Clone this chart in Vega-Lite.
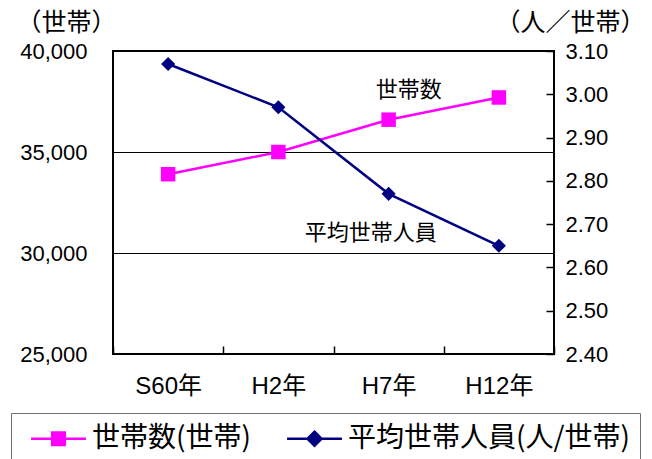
{
  "$schema": "https://vega.github.io/schema/vega-lite/v6.json",
  "width": 441,
  "height": 303,
  "autosize": {"type": "none"},
  "padding": {"left": 113, "top": 51, "right": 98, "bottom": 105},
  "background": "white",
  "config": {
    "view": {"stroke": "black", "strokeWidth": 2},
    "font": "Noto Sans CJK JP",
    "legend": {
      "orient": "none",
      "legendX": -102,
      "legendY": 362,
      "direction": "horizontal",
      "padding": 10,
      "strokeColor": "#707070",
      "fillColor": "white",
      "labelFont": "Noto Sans CJK JP",
      "labelFontSize": 28,
      "labelColor": "black",
      "labelLimit": 400,
      "symbolSize": 784,
      "symbolOffset": 22,
      "symbolStrokeWidth": 2.5,
      "labelOffset": 18,
      "columnPadding": 26
    }
  },
  "data": {
    "values": [
      {"year": "S60年", "households": 33900, "persons": 3.07},
      {"year": "H2年", "households": 35000, "persons": 2.97},
      {"year": "H7年", "households": 36600, "persons": 2.77},
      {"year": "H12年", "households": 37700, "persons": 2.65}
    ]
  },
  "encoding": {
    "x": {
      "field": "year",
      "type": "nominal",
      "sort": null,
      "scale": {"type": "band", "paddingInner": 0, "paddingOuter": 0},
      "axis": {
        "orient": "bottom",
        "title": null,
        "labelAngle": 0,
        "tickBand": "extent",
        "tickSize": -8,
        "tickColor": "black",
        "tickWidth": 1.5,
        "domain": false,
        "labelFont": "Liberation Sans, Noto Sans CJK JP",
        "labelFontSize": 24,
        "labelColor": "black",
        "labelBaseline": "middle",
        "labelPadding": 40
      }
    }
  },
  "layer": [
    {
      "layer": [
        {
          "mark": {"type": "line", "color": "#FF00FF", "strokeWidth": 2.5},
          "encoding": {
            "y": {
              "field": "households",
              "type": "quantitative",
              "scale": {"domain": [25000, 40000], "nice": false, "zero": false},
              "axis": {
                "orient": "left",
                "title": "（世帯）",
                "titleAngle": 0,
                "titleX": -47,
                "titleY": -29,
                "titleAlign": "center",
                "titleBaseline": "middle",
                "titleFont": "Noto Sans CJK JP",
                "titleFontSize": 25,
                "titleFontWeight": "normal",
                "titleColor": "black",
                "values": [25000, 30000, 35000, 40000],
                "format": ",d",
                "labelFont": "Liberation Sans",
                "labelFontSize": 22,
                "labelColor": "black",
                "labelPadding": 26,
                "labelOverlap": false,
                "ticks": false,
                "domain": false,
                "grid": true,
                "gridColor": "black",
                "gridWidth": 1
              }
            }
          }
        },
        {
          "mark": {"type": "point", "filled": true, "opacity": 1, "shape": "square", "size": 210, "color": "#FF00FF"},
          "encoding": {
            "y": {"field": "households", "type": "quantitative"}
          }
        },
        {
          "mark": {"type": "point", "filled": true, "opacity": 1, "size": 0},
          "encoding": {
            "y": {"field": "households", "type": "quantitative"},
            "color": {
              "datum": "世帯数(世帯)",
              "type": "nominal",
              "scale": {
                "domain": ["世帯数(世帯)", "平均世帯人員(人/世帯)"],
                "range": ["#FF00FF", "#000080"]
              },
              "legend": {"title": null}
            },
            "stroke": {
              "datum": "世帯数(世帯)",
              "type": "nominal",
              "scale": {
                "domain": ["世帯数(世帯)", "平均世帯人員(人/世帯)"],
                "range": ["#FF00FF", "#000080"]
              },
              "legend": {"title": null}
            },
            "shape": {
              "datum": "世帯数(世帯)",
              "type": "nominal",
              "scale": {
                "domain": ["世帯数(世帯)", "平均世帯人員(人/世帯)"],
                "range": [
                  "M-1.96,0L1.96,0M-0.45,-0.45L0.45,-0.45L0.45,0.45L-0.45,0.45Z",
                  "M-1.96,0L1.96,0M0,-0.5L0.5,0L0,0.5L-0.5,0Z"
                ]
              },
              "legend": {"title": null}
            }
          }
        },
        {
          "data": {"values": [{"label": "世帯数", "year": "H7年", "households": 38070}]},
          "mark": {"type": "text", "fontSize": 22, "font": "Noto Sans CJK JP", "color": "black", "dx": 20, "baseline": "middle"},
          "encoding": {
            "y": {"field": "households", "type": "quantitative"},
            "text": {"field": "label"}
          }
        },
        {
          "data": {"values": [{"label": "平均世帯人員", "year": "H7年", "households": 30990}]},
          "mark": {"type": "text", "fontSize": 22, "font": "Noto Sans CJK JP", "color": "black", "dx": -18, "baseline": "middle"},
          "encoding": {
            "y": {"field": "households", "type": "quantitative"},
            "text": {"field": "label"}
          }
        }
      ]
    },
    {
      "layer": [
        {
          "mark": {"type": "line", "color": "#000080", "strokeWidth": 2.5},
          "encoding": {
            "y": {
              "field": "persons",
              "type": "quantitative",
              "scale": {"domain": [2.4, 3.1], "nice": false, "zero": false},
              "axis": {
                "orient": "right",
                "title": "（人／世帯）",
                "titleAngle": 0,
                "titleX": 16,
                "titleY": -29,
                "titleAlign": "center",
                "titleBaseline": "middle",
                "titleFont": "Noto Sans CJK JP",
                "titleFontSize": 25,
                "titleFontWeight": "normal",
                "titleColor": "black",
                "values": [2.4, 2.5, 2.6, 2.7, 2.8, 2.9, 3.0, 3.1],
                "format": ".2f",
                "labelFont": "Liberation Sans",
                "labelFontSize": 22,
                "labelColor": "black",
                "labelPadding": 19,
                "labelOverlap": false,
                "tickSize": -8,
                "tickColor": "black",
                "tickWidth": 1.5,
                "domain": false,
                "grid": false
              }
            }
          }
        },
        {
          "mark": {"type": "point", "filled": true, "opacity": 1, "shape": "diamond", "size": 200, "color": "#000080"},
          "encoding": {
            "y": {"field": "persons", "type": "quantitative"}
          }
        },
        {
          "mark": {"type": "point", "filled": true, "opacity": 1, "size": 0},
          "encoding": {
            "y": {"field": "persons", "type": "quantitative"},
            "color": {"datum": "平均世帯人員(人/世帯)", "type": "nominal", "legend": {"title": null}},
            "stroke": {"datum": "平均世帯人員(人/世帯)", "type": "nominal", "legend": {"title": null}},
            "shape": {"datum": "平均世帯人員(人/世帯)", "type": "nominal", "legend": {"title": null}}
          }
        }
      ]
    }
  ],
  "resolve": {"scale": {"y": "independent"}}
}
